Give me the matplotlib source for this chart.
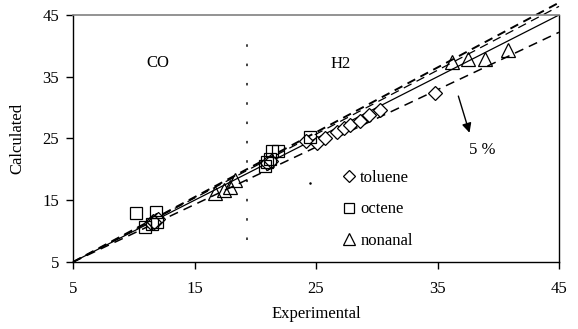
import matplotlib
matplotlib.use("Agg")
import matplotlib.pyplot as plt

plt.rcParams['font.family'] = ['Liberation Serif', 'DejaVu Serif']

# data
toluene_x = [11.4, 11.6, 11.8, 12.0, 11.7, 21.0, 21.3, 24.2, 25.1, 25.7, 26.7, 27.3, 27.8, 28.6, 29.4, 30.3, 34.8]
toluene_y = [11.3, 11.6, 11.8, 12.0, 11.5, 21.0, 21.3, 24.6, 24.2, 25.0, 26.1, 26.7, 27.2, 27.9, 28.8, 29.6, 32.4]
octene_x = [10.2, 11.85, 10.9, 11.5, 11.9, 20.8, 21.0, 21.2, 21.4, 21.9, 24.5]
octene_y = [13.0, 13.1, 10.6, 11.2, 11.5, 20.6, 21.2, 21.6, 23.0, 23.0, 25.2]
nonanal_x = [16.7, 17.4, 17.9, 18.3, 36.2, 37.5, 38.9, 40.8]
nonanal_y = [16.1, 16.7, 17.2, 18.3, 37.4, 37.8, 37.8, 39.3]
parity_x = [5, 45]
parity_y = [5, 45]
upper_y = [5, 47.0]
upper2_y = [5, 46.4]
lower_y = [5, 42.2]
divider_x = [19.3, 19.3]
divider_y = [8.6, 41.8]
ticks = [5, 15, 25, 35, 45]

fig = plt.figure(figsize=(5.78, 3.29), dpi=100)
ax = fig.add_axes([73/578, 67/329, 486/578, 247/329])
ax.set_xlim(5, 45)
ax.set_ylim(5, 45)

ax.plot(parity_x, parity_y, color='black', lw=0.9, zorder=2)
ax.plot(parity_x, upper_y, color='black', lw=1.4, dashes=(4.5, 3), clip_on=False, zorder=2)
ax.plot(parity_x, upper2_y, color='black', lw=0.9, dashes=(7, 4.5), dash_capstyle='butt', clip_on=False, zorder=2)
ax.plot(parity_x, lower_y, color='black', lw=1.1, dashes=(6, 4), zorder=2)
ax.plot(divider_x, divider_y, color='#333333', lw=1.3, dashes=(1.4, 9.3), zorder=1)

ax.plot(toluene_x, toluene_y, ls='none', marker='D', ms=6.8, mfc='white', mec='black', mew=0.9, label='toluene', zorder=3)
ax.plot(octene_x, octene_y, ls='none', marker='s', ms=8.5, mfc='none', mec='black', mew=0.9, label='octene', zorder=3)
ax.plot(nonanal_x, nonanal_y, ls='none', marker='^', ms=9.5, mfc='none', mec='black', mew=0.9, label='nonanal', zorder=3)
ax.plot([24.5], [17.8], ls='none', marker='o', ms=0.8, color='black')

ax.text(12.0, 37.2, 'CO', fontsize=12, ha='center', va='center')
ax.text(27.0, 37.1, 'H2', fontsize=12, ha='center', va='center')
ax.text(38.7, 23.1, '5 %', fontsize=12, ha='center', va='center')
ax.annotate('', xy=(37.7, 25.5), xytext=(36.65, 32.3),
            arrowprops=dict(arrowstyle='-|>', color='black', lw=1.0, mutation_scale=14))

leg = ax.legend(loc='upper left', bbox_to_anchor=(0.555, 0.372), frameon=False,
                fontsize=12, handlelength=0.8, handletextpad=0.25, labelspacing=0.92,
                borderpad=0, borderaxespad=0, numpoints=1, markerscale=0.85)

ax.set_xticks(ticks)
ax.set_yticks(ticks)
ax.tick_params(direction='out', length=5, width=1, labelsize=12)
ax.tick_params(axis='x', pad=9)
ax.tick_params(axis='y', pad=5)
for s in ['left', 'bottom', 'right']:
    ax.spines[s].set_color('black')
    ax.spines[s].set_linewidth(1)
ax.spines['top'].set_color('#808080')
ax.spines['top'].set_linewidth(1.2)

ax.set_xlabel('Experimental', fontsize=12, labelpad=6)
ax.set_ylabel('Calculated', fontsize=12, labelpad=12)

fig.savefig('out.png', dpi=100)
